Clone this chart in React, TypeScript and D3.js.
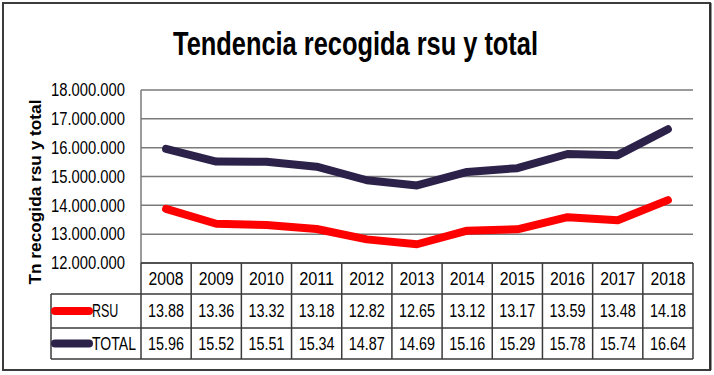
import * as React from "react"
import * as d3 from "d3"

const years = ["2008", "2009", "2010", "2011", "2012", "2013", "2014", "2015", "2016", "2017", "2018"]
const rsu = [13.88, 13.36, 13.32, 13.18, 12.82, 12.65, 13.12, 13.17, 13.59, 13.48, 14.18]
const total = [15.96, 15.52, 15.51, 15.34, 14.87, 14.69, 15.16, 15.29, 15.78, 15.74, 16.64]
const yTicks = [12000000, 13000000, 14000000, 15000000, 16000000, 17000000, 18000000]

const series = [
  { name: "RSU", values: rsu, color: "#ff0000" },
  { name: "TOTAL", values: total, color: "#2c2149" },
]

const W = 714
const H = 375
const font = "'Liberation Sans', Arial, sans-serif"

export default function App() {
  const left = 141
  const right = 693
  const top = 90
  const bottom = 263
  const rowH = [263, 294, 328, 359]
  const legendLeft = 51

  const x = d3.scaleBand<string>().domain(years).range([left, right])
  const y = d3.scaleLinear().domain([12000000, 18000000]).range([bottom, top])
  const fmt = (v: number) => d3.format(",")(v).replace(/,/g, ".")
  const cx = (yr: string) => (x(yr) ?? 0) + x.bandwidth() / 2

  const line = d3
    .line<number>()
    .x((_, i) => cx(years[i]))
    .y((d) => y(d * 1000000))

  const tableColor = "#3a3a3a"

  return (
    <svg width={W} height={H} style={{ position: "absolute", left: 0, top: 0, background: "#fff" }} fontFamily={font}>
      <rect x={0} y={0} width={W} height={H} fill="#fff" />
      {/* frame */}
      <rect x={3} y={3} width={707} height={367} fill="none" stroke="#3c3c3c" strokeWidth={2} />
      <line x1={710.5} x2={710.5} y1={3} y2={370} stroke="#2a2a2a" strokeWidth={2} />

      {/* title */}
      <text
        x={173}
        y={55}
        fontSize={34}
        fontWeight="bold"
        fill="#000"
        textLength={365}
        lengthAdjust="spacingAndGlyphs"
      >
        Tendencia recogida rsu y total
      </text>

      {/* y axis title */}
      <text
        transform={`translate(41,192) rotate(-90)`}
        textAnchor="middle"
        fontSize={16}
        fontWeight="bold"
        fill="#000"
        textLength={185}
        lengthAdjust="spacingAndGlyphs"
      >
        Tn recogida rsu y total
      </text>

      {/* gridlines */}
      {yTicks.map((t) => (
        <g key={t}>
          <line x1={left} x2={right} y1={y(t)} y2={y(t)} stroke="#7a7a7a" strokeWidth={1.5} />
          <text
            x={125}
            y={y(t)}
            dy="0.36em"
            textAnchor="end"
            fontSize={17.5}
            fill="#000"
            textLength={74}
            lengthAdjust="spacingAndGlyphs"
          >
            {fmt(t)}
          </text>
        </g>
      ))}
      <line x1={left} x2={left} y1={top} y2={bottom} stroke="#7a7a7a" strokeWidth={1.5} />

      {/* lines */}
      {series.map((s) => (
        <path
          key={s.name}
          d={line(s.values) ?? ""}
          fill="none"
          stroke={s.color}
          strokeWidth={8}
          strokeLinecap="round"
          strokeLinejoin="round"
        />
      ))}

      {/* data table */}
      <g stroke={tableColor} strokeWidth={1.5}>
        <line x1={left} x2={right} y1={rowH[0]} y2={rowH[0]} />
        <line x1={legendLeft} x2={right} y1={rowH[1]} y2={rowH[1]} />
        <line x1={legendLeft} x2={right} y1={rowH[2]} y2={rowH[2]} />
        <line x1={legendLeft} x2={right} y1={rowH[3]} y2={rowH[3]} />
        <line x1={legendLeft} x2={legendLeft} y1={rowH[1]} y2={rowH[3]} />
        {years.map((yr) => (
          <line key={yr} x1={x(yr)} x2={x(yr)} y1={rowH[0]} y2={rowH[3]} />
        ))}
        <line x1={right} x2={right} y1={rowH[0]} y2={rowH[3]} />
      </g>

      {years.map((yr) => (
        <text
          key={yr}
          x={cx(yr)}
          y={(rowH[0] + rowH[1]) / 2}
          dy="0.36em"
          textAnchor="middle"
          fontSize={18}
          fill="#000"
          textLength={35}
          lengthAdjust="spacingAndGlyphs"
        >
          {yr}
        </text>
      ))}

      {series.map((s, si) => {
        const cy = (rowH[si + 1] + rowH[si + 2]) / 2
        return (
          <g key={s.name}>
            <line x1={55} x2={89} y1={cy} y2={cy} stroke={s.color} strokeWidth={8} strokeLinecap="round" />
            <text
              x={92}
              y={cy}
              dy="0.36em"
              fontSize={18}
              fill="#000"
              textLength={s.name.length * 8.8}
              lengthAdjust="spacingAndGlyphs"
            >
              {s.name}
            </text>
            {s.values.map((v, i) => (
              <text
                key={i}
                x={cx(years[i])}
                y={cy}
                dy="0.36em"
                textAnchor="middle"
                fontSize={18}
                fill="#000"
                textLength={36}
                lengthAdjust="spacingAndGlyphs"
              >
                {v.toFixed(2)}
              </text>
            ))}
          </g>
        )
      })}
    </svg>
  )
}
